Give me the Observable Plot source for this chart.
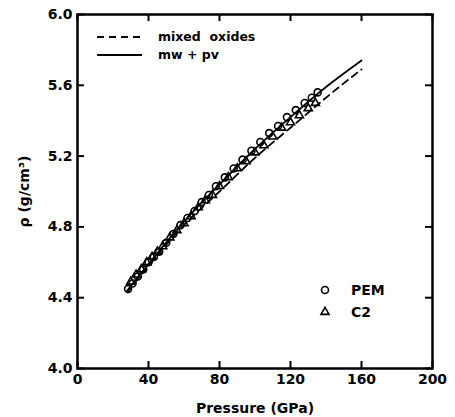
<!DOCTYPE html>
<html><head><meta charset="utf-8">
<script src="https://cdn.jsdelivr.net/npm/d3@7"></script>
<script src="https://cdn.jsdelivr.net/npm/@observablehq/plot@0.6"></script>
<style>body{margin:0;background:#fff} svg{display:block}</style>
</head><body><div id="chart"></div>
<script>
// PEM (circles)
const pemPressure = [28.5, 31, 34, 37, 40, 43, 46, 50, 54, 58, 62, 66, 70, 74, 78, 83, 88, 93, 98, 103, 108, 113, 118, 123, 128, 132, 135.3];
const pemDensity  = [4.45, 4.48, 4.52, 4.56, 4.60, 4.63, 4.66, 4.71, 4.76, 4.81, 4.85, 4.89, 4.94, 4.98, 5.03, 5.08, 5.13, 5.18, 5.23, 5.28, 5.33, 5.37, 5.42, 5.46, 5.50, 5.53, 5.56];
// C2 (triangles)
const c2Pressure = [30, 33, 36, 39, 42, 45, 48, 52, 56, 60, 64, 68, 72, 76, 80, 85, 90, 95, 100, 105, 110, 115, 120, 125, 130, 134];
const c2Density  = [4.49, 4.53, 4.56, 4.60, 4.63, 4.66, 4.69, 4.74, 4.78, 4.82, 4.86, 4.91, 4.95, 4.98, 5.03, 5.08, 5.13, 5.17, 5.22, 5.26, 5.31, 5.36, 5.39, 5.43, 5.47, 5.50];
// model curves
const modelPressure = [28, 40, 60, 80, 100, 120, 140, 160];
const mixedOxides   = [4.43, 4.58, 4.81, 5.00, 5.19, 5.36, 5.53, 5.69];
const mwPv          = [4.44, 4.59, 4.83, 5.04, 5.24, 5.42, 5.59, 5.74];
// ticks
const xTicks = [0, 40, 80, 120, 160, 200];
const yTicks = [4.0, 4.4, 4.8, 5.2, 5.6, 6.0];
const lineLegend = ["mixed  oxides", "mw + pv"];
const symbolLegend = ["PEM", "C2"];

const pem = pemPressure.map((p, i) => ({p, d: pemDensity[i]}));
const c2 = c2Pressure.map((p, i) => ({p, d: c2Density[i]}));
const mo = modelPressure.map((p, i) => ({p, d: mixedOxides[i]}));
const mp = modelPressure.map((p, i) => ({p, d: mwPv[i]}));

const W = 455, H = 417, ML = 77, MR = 23, MT = 14, MB = 49, TICK = 7;
const fw = W - ML - MR, fh = H - MT - MB;

const chart = Plot.plot({
  width: W, height: H,
  marginLeft: ML, marginRight: MR, marginTop: MT, marginBottom: MB,
  style: {fontFamily: "'DejaVu Sans', sans-serif", fontSize: "14px", fontWeight: "bold", color: "black", background: "white"},
  x: {domain: [0, 200]},
  y: {domain: [4, 6]},
  marks: [
    Plot.axisX(xTicks, {anchor: "bottom", tickSize: 0, tickPadding: 6, label: "Pressure (GPa)", labelAnchor: "center", labelArrow: "none", labelOffset: 44, tickFormat: d => String(d)}),
    Plot.axisY(yTicks, {anchor: "left", tickSize: 0, tickPadding: 5, label: "ρ (g/cm³)", labelAnchor: "center", labelArrow: "none", labelOffset: 58, tickFormat: d3.format(".1f")}),
    // inward ticks on all four sides
    Plot.ruleX(xTicks, {stroke: "black", strokeWidth: 2, insetTop: fh - TICK}),
    Plot.ruleX(xTicks, {stroke: "black", strokeWidth: 2, insetBottom: fh - TICK}),
    Plot.ruleY(yTicks, {stroke: "black", strokeWidth: 2, insetRight: fw - TICK}),
    Plot.ruleY(yTicks, {stroke: "black", strokeWidth: 2, insetLeft: fw - TICK}),
    Plot.line(mo, {x: "p", y: "d", stroke: "black", strokeWidth: 1.8, strokeDasharray: "7,5", curve: "natural"}),
    Plot.line(mp, {x: "p", y: "d", stroke: "black", strokeWidth: 1.8, curve: "natural"}),
    Plot.dot(pem, {x: "p", y: "d", symbol: "circle", r: 3.5, stroke: "black", strokeWidth: 1.6, fill: "none"}),
    Plot.dot(c2, {x: "p", y: "d", symbol: "triangle", r: 3, stroke: "black", strokeWidth: 1.6, fill: "none"}),
    Plot.frame({stroke: "black", strokeWidth: 2.5})
  ]
});
document.getElementById("chart").appendChild(chart);

// legends
const svg = d3.select(chart);
const g = svg.append("g").attr("font-family", "'DejaVu Sans', sans-serif")
  .attr("font-weight", "bold").attr("text-anchor", "start");
lineLegend.forEach((t, i) => {
  const y = 37 + i * 18;
  g.append("line").attr("x1", 97).attr("x2", 142).attr("y1", y).attr("y2", y)
    .attr("stroke", "black").attr("stroke-width", 1.8).attr("stroke-dasharray", i === 0 ? "7,5" : null);
  g.append("text").attr("x", 158).attr("y", y).attr("dy", "0.35em").attr("font-size", 12.5)
    .style("white-space", "pre").text(t);
});
symbolLegend.forEach((t, i) => {
  const y = 290 + i * 22;
  const sym = i === 0 ? d3.symbolCircle : d3.symbolTriangle;
  const size = i === 0 ? Math.PI * 3.5 * 3.5 : Math.PI * 3 * 3;
  g.append("path").attr("transform", `translate(325,${y})`).attr("d", d3.symbol(sym, size)())
    .attr("fill", "none").attr("stroke", "black").attr("stroke-width", 1.6);
  g.append("text").attr("x", 351).attr("y", y).attr("dy", "0.35em").attr("font-size", 14).text(t);
});
</script>
</body></html>
